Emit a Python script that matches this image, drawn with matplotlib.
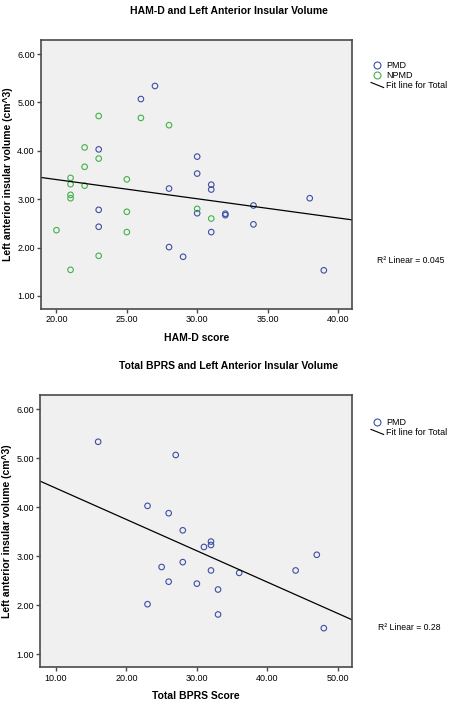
import numpy as np
import matplotlib
matplotlib.use("Agg")
import matplotlib.pyplot as plt
from matplotlib.lines import Line2D
from matplotlib.legend_handler import HandlerBase

plt.rcParams['font.family'] = ['Liberation Sans', 'DejaVu Sans']

# HAM-D plot data
hamd_pmd = [27, 26, 23, 30, 30, 28, 31, 31, 23, 23, 30, 31, 28, 29, 32, 32, 34, 34, 38, 39]
vol_pmd_hamd = [5.34, 5.07, 4.03, 3.88, 3.53, 3.22, 3.30, 3.20, 2.78, 2.43,
                 2.71, 2.32, 2.01, 1.81, 2.70, 2.67, 2.87, 2.48, 3.02, 1.53]
hamd_npmd = [23, 22, 23, 22, 26, 28, 21, 25, 21, 22, 21, 21, 25, 25, 20, 23, 21, 30, 31]
vol_npmd = [4.72, 4.07, 3.84, 3.67, 4.68, 4.53, 3.44, 3.41, 3.31, 3.28,
            3.09, 3.02, 2.74, 2.32, 2.36, 1.83, 1.54, 2.80, 2.60]

# BPRS plot data
bprs_pmd = [16, 27, 23, 26, 28, 32, 32, 31, 28, 25, 32, 26, 30, 33, 23, 33, 36, 44, 47, 48]
vol_pmd_bprs = [5.34, 5.07, 4.03, 3.88, 3.53, 3.30, 3.23, 3.19, 2.88, 2.78,
                2.71, 2.48, 2.44, 2.32, 2.02, 1.81, 2.66, 2.71, 3.03, 1.53]

r2_hamd = "0.045"
r2_bprs = "0.28"

blue = '#3d4fa6'
green = '#44b04a'
bg = '#f0f0f0'
spine_c = '#4a4a4a'


class DiagLine(HandlerBase):
    # SPSS style legend: short slanted line for the fit
    def create_artists(self, legend, orig_handle, xdescent, ydescent,
                       width, height, fontsize, trans):
        l = Line2D([-xdescent, -xdescent + width],
                   [-ydescent + height * 0.9, -ydescent + height * 0.1],
                   color='black', lw=0.8, transform=trans)
        return [l]


def style(ax, xlim, xticks):
    ax.set_facecolor(bg)
    ax.set_xlim(*xlim)
    ax.set_ylim(0.73, 6.29)
    ax.set_xticks(xticks)
    ax.set_xticklabels(["%.2f" % t for t in xticks])
    ax.set_yticks([1, 2, 3, 4, 5, 6])
    ax.set_yticklabels(["%.2f" % t for t in [1, 2, 3, 4, 5, 6]])
    ax.tick_params(labelsize=6.5, length=3, width=1, color=spine_c, pad=1.5)
    for s in ax.spines.values():
        s.set_color(spine_c)
        s.set_linewidth(1.2)
    ax.set_ylabel("Left anterior insular volume (cm^3)", fontsize=7.5,
                  fontweight='bold', labelpad=3)


fig = plt.figure(figsize=(4.5, 7.06), dpi=100)

# top chart
ax1 = fig.add_axes([0.0911, 0.5623, 0.691, 0.381])
style(ax1, (18.9, 41.0), [20, 25, 30, 35, 40])
ax1.scatter(hamd_pmd, vol_pmd_hamd, s=16, facecolors='none', edgecolors=blue, linewidths=0.8)
ax1.scatter(hamd_npmd, vol_npmd, s=16, facecolors='none', edgecolors=green, linewidths=0.8)
xa = np.array(hamd_pmd + hamd_npmd)
ya = np.array(vol_pmd_hamd + vol_npmd)
k, b = np.polyfit(xa, ya, 1)
xx = np.array(ax1.get_xlim())
ax1.plot(xx, k * xx + b, color='black', lw=0.9)
ax1.set_xlabel("HAM-D score", fontsize=7.5, fontweight='bold', labelpad=6)
fig.text(0.509, 1 - 11 / 706, "HAM-D and Left Anterior Insular Volume", fontsize=7.5,
         fontweight='bold', ha='center', va='center')
h1 = [Line2D([], [], ls='none', marker='o', mfc='none', mec=blue, ms=5, mew=0.8),
      Line2D([], [], ls='none', marker='o', mfc='none', mec=green, ms=5, mew=0.8),
      Line2D([], [], color='black')]
ax1.legend(h1, ["PMD", "NPMD", "Fit line for Total"], loc='upper left',
           bbox_to_anchor=(371 / 450, 1 - 61 / 706), bbox_transform=fig.transFigure,
           frameon=False, fontsize=6.5, borderpad=0, borderaxespad=0,
           handlelength=1.4, handletextpad=0.3, labelspacing=0.12,
           handler_map={h1[2]: DiagLine()})
fig.text(377 / 450, 1 - 260 / 706, "R\u00b2 Linear = " + r2_hamd, fontsize=6.2, va='center')

# bottom chart
ax2 = fig.add_axes([0.0896, 0.0548, 0.6927, 0.3853])
style(ax2, (7.8, 52.0), [10, 20, 30, 40, 50])
ax2.scatter(bprs_pmd, vol_pmd_bprs, s=16, facecolors='none', edgecolors=blue, linewidths=0.8)
k2, b2 = np.polyfit(bprs_pmd, vol_pmd_bprs, 1)
xx2 = np.array(ax2.get_xlim())
ax2.plot(xx2, k2 * xx2 + b2, color='black', lw=0.9)
ax2.set_xlabel("Total BPRS Score", fontsize=7.5, fontweight='bold', labelpad=6)
fig.text(0.509, 1 - 366 / 706, "Total BPRS and Left Anterior Insular Volume", fontsize=7.5,
         fontweight='bold', ha='center', va='center')
h2 = [Line2D([], [], ls='none', marker='o', mfc='none', mec=blue, ms=5, mew=0.8),
      Line2D([], [], color='black')]
ax2.legend(h2, ["PMD", "Fit line for Total"], loc='upper left',
           bbox_to_anchor=(371 / 450, 1 - 418 / 706), bbox_transform=fig.transFigure,
           frameon=False, fontsize=6.5, borderpad=0, borderaxespad=0,
           handlelength=1.4, handletextpad=0.3, labelspacing=0.12,
           handler_map={h2[1]: DiagLine()})
fig.text(378 / 450, 1 - 628 / 706, "R\u00b2 Linear = " + r2_bprs, fontsize=6.2, va='center')

fig.savefig("out.png", dpi=100)
